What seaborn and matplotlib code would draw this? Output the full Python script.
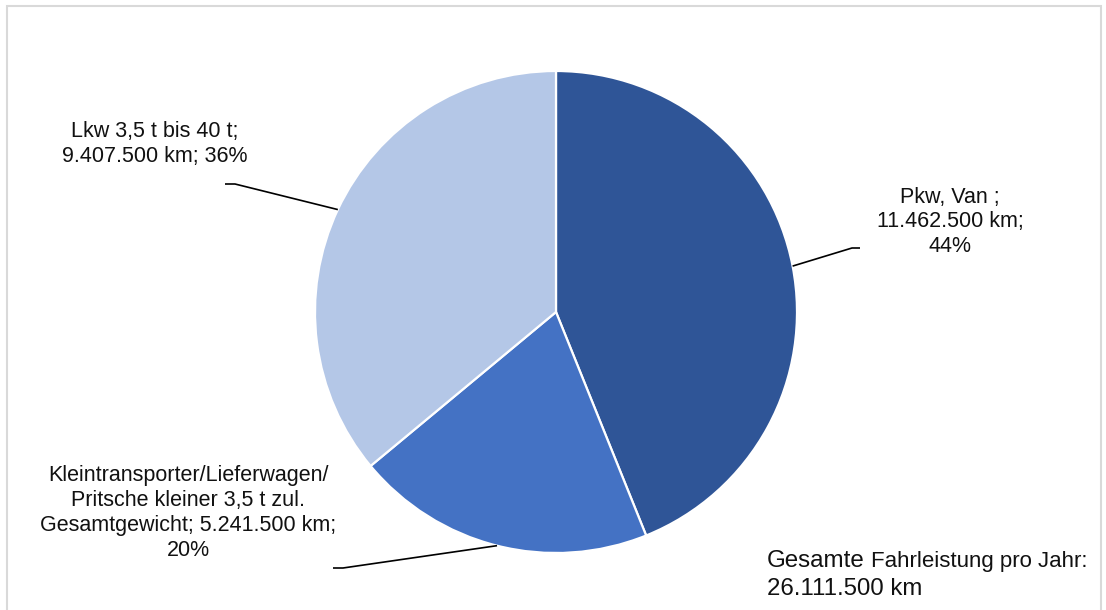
import numpy as np
import matplotlib
matplotlib.use("Agg")
import matplotlib.pyplot as plt
from matplotlib.patches import Rectangle
import seaborn as sns

# --- data -------------------------------------------------------------
categories = [
    "Pkw, Van ",
    "Kleintransporter/Lieferwagen/\nPritsche kleiner 3,5 t zul.\nGesamtgewicht",
    "Lkw 3,5 t bis 40 t",
]
km_per_year = [11_462_500, 5_241_500, 9_407_500]
label_formats = [
    "{name};\n{km};\n{pct}",
    "{name}; {km};\n{pct}",
    "{name};\n{km}; {pct}",
]
colors = ["#2F5597", "#4472C4", "#B4C7E7"]
total_prefix = "Gesamte"
total_suffix = "Fahrleistung pro Jahr:"


def de_num(v):
    return f"{v:,}".replace(",", ".")


# --- style ------------------------------------------------------------
sns.set_theme(style="white")
plt.rcParams["font.family"] = ["Liberation Sans", "DejaVu Sans"]
palette = sns.color_palette(colors)

W, H = 1106, 610
fig = plt.figure(figsize=(W / 100, H / 100), dpi=100)
ax = fig.add_axes([0, 0, 1, 1])


def py(y):
    """Convert a top-down pixel row to data y."""
    return H - y


cx, cy, r = 556, py(312), 241
wedges, _ = ax.pie(
    km_per_year,
    colors=palette,
    startangle=90,
    counterclock=False,
    center=(cx, cy),
    radius=r,
    wedgeprops=dict(edgecolor="white", linewidth=1.6),
)
ax.set_xlim(0, W)
ax.set_ylim(0, H)
ax.set_aspect("equal")
ax.axis("off")

total = sum(km_per_year)

# label block centres, elbow and line-end positions (pixels)
label_pos = [(950, 222), (188, 513), (155, 144)]
elbows = [((852, 248), (860, 248)), ((343, 568), (333, 568)), ((235, 184), (225, 184))]

for w, name, km, fmt, (lx, ly), (elb, end) in zip(
    wedges, categories, km_per_year, label_formats, label_pos, elbows
):
    pct = f"{round(100 * km / total):d}%"
    text = fmt.format(name=name, km=f"{de_num(km)} km", pct=pct)
    ax.text(lx, py(ly), text, ha="center", va="center", multialignment="center",
            fontsize=15.5, color="#111111", linespacing=1.24)
    mid = np.deg2rad((w.theta1 + w.theta2) / 2)
    ex, ey = cx + r * np.cos(mid), cy + r * np.sin(mid)
    ax.plot([ex, elb[0], end[0]], [ey, py(elb[1]), py(end[1])],
            color="black", lw=1.2, solid_capstyle="butt")

# total annotation with mixed font sizes
t1 = ax.text(767, py(567), total_prefix, fontsize=17.4, va="baseline", ha="left",
             color="#111111")
fig.canvas.draw()
bb = t1.get_window_extent(fig.canvas.get_renderer())
ax.text(bb.x1 + 6, py(567), total_suffix, fontsize=16, va="baseline", ha="left",
        color="#111111")
ax.text(767, py(595), f"{de_num(total)} km", fontsize=17.3, va="baseline", ha="left",
        color="#111111")

# chart-area frame
fig.patches.append(Rectangle((7, -10), 1094, H - 6 + 10, transform=None,
                             fill=False, edgecolor="#D9D9D9", linewidth=1.5))

fig.savefig("out.png", dpi=100, facecolor="white")
